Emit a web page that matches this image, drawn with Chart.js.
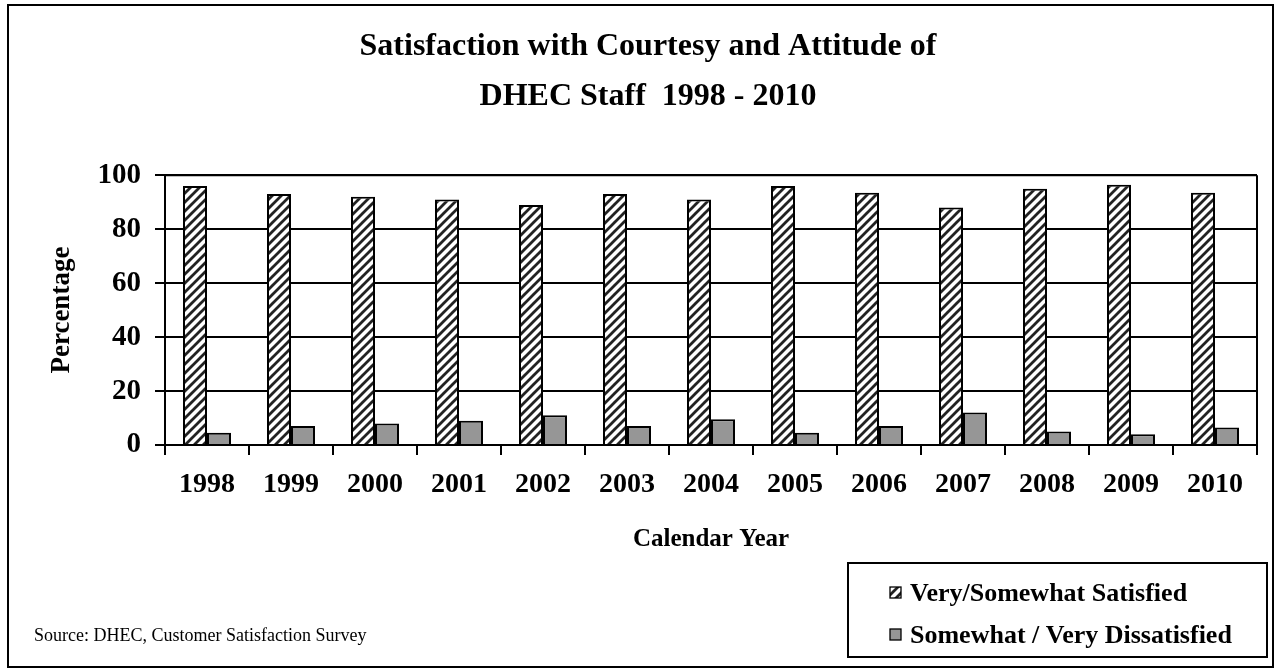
<!DOCTYPE html>
<html>
<head>
<meta charset="utf-8">
<script src="https://cdn.jsdelivr.net/npm/chart.js@4.4.0/dist/chart.umd.min.js"></script>
<style>
  html, body { margin: 0; padding: 0; background: #fff; }
  #wrap { width: 1275px; height: 670px; position: relative; }
</style>
</head>
<body>
<div id="wrap"><canvas id="c" width="1275" height="670"></canvas></div>
<script>
const years = ['1998','1999','2000','2001','2002','2003','2004','2005','2006','2007','2008','2009','2010'];
const satisfied = [96, 93, 92, 91, 89, 93, 91, 96, 93.5, 88, 95, 96.5, 93.5];
const dissatisfied = [4.5, 7, 8, 9, 11, 7, 9.5, 4.5, 7, 12, 5, 4, 6.5];
const seriesNames = ['Very/Somewhat Satisfied', 'Somewhat / Very Dissatisfied'];
const titleLines = ['Satisfaction with Courtesy and Attitude of', 'DHEC Staff  1998 - 2010'];
const yTitle = 'Percentage';
const xTitle = 'Calendar Year';
const sourceText = 'Source: DHEC, Customer Satisfaction Survey';

const SERIF = '"Liberation Serif", "Times New Roman", serif';
const GRAY = '#969696';

function makeHatch() {
  const s = 9;
  const pc = document.createElement('canvas');
  pc.width = s; pc.height = s;
  const p = pc.getContext('2d');
  p.fillStyle = '#fff';
  p.fillRect(0, 0, s, s);
  p.strokeStyle = '#222';
  p.lineWidth = 2.8;
  p.beginPath();
  p.moveTo(-1, s + 1); p.lineTo(s + 1, -1);
  p.moveTo(-2, 2); p.lineTo(2, -2);
  p.moveTo(s - 2, s + 2); p.lineTo(s + 2, s - 2);
  p.stroke();
  return p.createPattern(pc, 'repeat');
}
const ctx0 = document.getElementById('c').getContext('2d');
const hatch = makeHatch();

const framePlugin = {
  id: 'frame',
  beforeDraw(chart) {
    const ctx = chart.ctx;
    ctx.save();
    ctx.fillStyle = '#fff';
    ctx.fillRect(0, 0, chart.width, chart.height);
    ctx.strokeStyle = '#000';
    ctx.lineWidth = 2;
    ctx.strokeRect(8, 5, 1265, 662);
    ctx.restore();
  },
  afterDraw(chart) {
    const ctx = chart.ctx;
    const a = chart.chartArea;
    ctx.save();
    ctx.strokeStyle = '#000';
    ctx.lineWidth = 2;
    ctx.beginPath();
    ctx.moveTo(a.right, a.top);
    ctx.lineTo(a.right, a.bottom);
    ctx.moveTo(a.left, a.top);
    ctx.lineTo(a.right, a.top);
    ctx.stroke();

    // legend box
    ctx.strokeRect(848, 563, 419, 94);
    const items = chart.data.datasets;
    const ys = [593, 635];
    ctx.font = 'bold 26px ' + SERIF;
    ctx.textBaseline = 'middle';
    ctx.textAlign = 'left';
    items.forEach((ds, i) => {
      const sx = 890, sy = ys[i] - 6, sz = 11;
      ctx.fillStyle = ds.backgroundColor;
      ctx.fillRect(sx, sy, sz, sz);
      ctx.lineWidth = 1.3;
      ctx.strokeStyle = '#000';
      ctx.strokeRect(sx, sy, sz, sz);
      ctx.fillStyle = '#000';
      ctx.fillText(ds.label, 910, ys[i] + 1);
    });

    // source
    ctx.font = '18px ' + SERIF;
    ctx.fillStyle = '#000';
    ctx.fillText(sourceText, 34, 636);
    ctx.restore();
  }
};

new Chart(ctx0, {
  type: 'bar',
  data: {
    labels: years,
    datasets: [
      { label: seriesNames[0], data: satisfied, backgroundColor: hatch, borderColor: '#000', borderWidth: 2 },
      { label: seriesNames[1], data: dissatisfied, backgroundColor: GRAY, borderColor: '#000', borderWidth: 2 }
    ]
  },
  options: {
    responsive: false,
    animation: false,
    devicePixelRatio: 1,
    layout: { padding: { left: 39, right: 18, top: 22, bottom: 100 } },
    datasets: { bar: { categoryPercentage: 48 / 84, barPercentage: 1.0 } },
    plugins: {
      legend: { display: false },
      tooltip: { enabled: false },
      title: {
        display: true,
        text: titleLines,
        color: '#000',
        font: { family: SERIF, size: 32, weight: 'bold', lineHeight: 1.55 },
        padding: { top: 0, bottom: 54 }
      }
    },
    scales: {
      x: {
        afterFit(scale) { scale.height = 125; },
        grid: { display: true, offset: true, drawOnChartArea: false, drawTicks: true, tickLength: 10, color: '#000', lineWidth: 2 },
        border: { display: true, color: '#000', width: 2 },
        ticks: { color: '#000', font: { family: SERIF, size: 28, weight: 'bold' }, padding: 13, maxRotation: 0, autoSkip: false },
        title: { display: true, text: xTitle, color: '#000', font: { family: SERIF, size: 25, weight: 'bold' }, padding: { top: 0, bottom: 15 } }
      },
      y: {
        min: 0, max: 100,
        afterFit(scale) { scale.width = 126; },
        grid: { display: true, drawTicks: true, tickLength: 10, color: '#000', lineWidth: 2 },
        border: { display: true, color: '#000', width: 2 },
        ticks: { stepSize: 20, color: '#000', font: { family: SERIF, size: 29, weight: 'bold' }, padding: 14 },
        title: { display: true, text: yTitle, color: '#000', font: { family: SERIF, size: 27, weight: 'bold' }, padding: { top: 7, bottom: 0 } }
      }
    }
  },
  plugins: [framePlugin]
});
</script>
</body>
</html>
